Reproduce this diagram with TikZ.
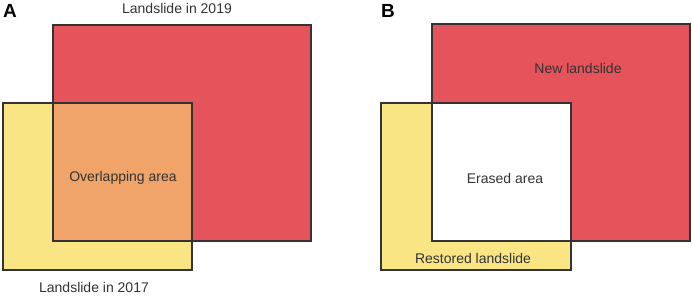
\documentclass[tikz,border=0pt]{standalone}
\usepackage{fontspec}
\setmainfont{Liberation Sans}
\begin{document}
\begin{tikzpicture}[x=1pt,y=-1pt,
  edge/.style={draw=black!80,line width=1.2pt},
  lbl/.style={text=black!80,font=\fontsize{14}{16}\selectfont,inner sep=0pt,anchor=center},
  panel/.style={font=\fontsize{19}{20}\selectfont\bfseries,inner sep=0pt,anchor=north west}]
\definecolor{redA}{HTML}{E5535B}
\definecolor{yelA}{HTML}{FAE584}
\definecolor{oraA}{HTML}{F0A46A}
\useasboundingbox (0,0) rectangle (692,296);
% Panel A
\fill[redA] (53,25) rectangle (311,241);
\fill[yelA] (3,103) rectangle (192,270);
\fill[oraA] (53,103) rectangle (192,241);
\draw[edge] (53,25) rectangle (311,241);
\draw[edge] (3,103) rectangle (192,270);
\node[panel] (A) at (3,4) {A};
\node[lbl] (l19) at (177,8) {Landslide in 2019};
\node[lbl] (ov) at (123,178) {Overlapping area};
\node[lbl] (l17) at (94,287) {Landslide in 2017};
% Panel B
\fill[redA] (432,24) rectangle (690,241);
\fill[yelA] (381,103) rectangle (571,270);
\fill[white] (432,103) rectangle (571,241);
\draw[edge] (432,24) rectangle (690,241);
\draw[edge] (381,103) rectangle (571,270);
\node[panel] (B) at (381,4) {B};
\node[lbl] (nl) at (578,68) {New landslide};
\node[lbl] (er) at (505,178) {Erased area};
\node[lbl] (rl) at (473,258) {Restored landslide};
\end{tikzpicture}
\end{document}
